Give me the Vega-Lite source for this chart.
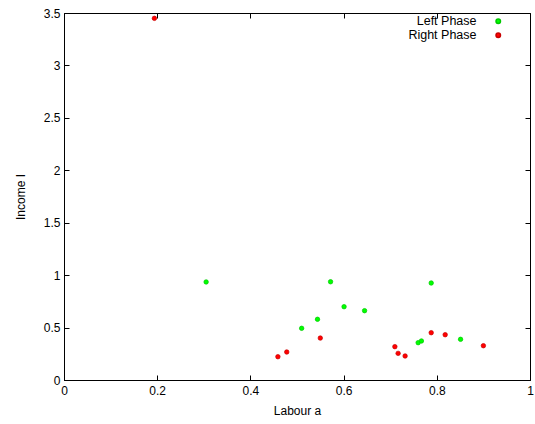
{
  "$schema": "https://vega.github.io/schema/vega-lite/v6.json",
  "width": 466,
  "height": 367,
  "autosize": {"type": "none"},
  "padding": {"left": 64, "top": 13, "right": 5, "bottom": 44},
  "background": "white",
  "config": {
    "font": "Liberation Sans",
    "view": {"stroke": "black", "strokeWidth": 1},
    "axis": {
      "grid": false,
      "domainColor": "black",
      "tickColor": "black",
      "labelColor": "black",
      "titleColor": "black",
      "labelFontSize": 12,
      "titleFontSize": 12,
      "titleFontWeight": "normal",
      "labelFont": "Liberation Sans",
      "titleFont": "Liberation Sans"
    }
  },
  "data": {
    "values": [
      {"a": 0.305, "I": 0.935, "phase": "Left Phase"},
      {"a": 0.510, "I": 0.493, "phase": "Left Phase"},
      {"a": 0.544, "I": 0.579, "phase": "Left Phase"},
      {"a": 0.572, "I": 0.937, "phase": "Left Phase"},
      {"a": 0.601, "I": 0.699, "phase": "Left Phase"},
      {"a": 0.645, "I": 0.661, "phase": "Left Phase"},
      {"a": 0.760, "I": 0.356, "phase": "Left Phase"},
      {"a": 0.767, "I": 0.372, "phase": "Left Phase"},
      {"a": 0.788, "I": 0.925, "phase": "Left Phase"},
      {"a": 0.851, "I": 0.388, "phase": "Left Phase"},
      {"a": 0.194, "I": 3.449, "phase": "Right Phase"},
      {"a": 0.459, "I": 0.222, "phase": "Right Phase"},
      {"a": 0.478, "I": 0.267, "phase": "Right Phase"},
      {"a": 0.550, "I": 0.400, "phase": "Right Phase"},
      {"a": 0.710, "I": 0.318, "phase": "Right Phase"},
      {"a": 0.717, "I": 0.254, "phase": "Right Phase"},
      {"a": 0.732, "I": 0.229, "phase": "Right Phase"},
      {"a": 0.788, "I": 0.451, "phase": "Right Phase"},
      {"a": 0.818, "I": 0.432, "phase": "Right Phase"},
      {"a": 0.900, "I": 0.327, "phase": "Right Phase"}
    ]
  },
  "layer": [
    {
      "mark": {"type": "point", "filled": true, "shape": "circle", "size": 20, "opacity": 1, "strokeWidth": 0.7},
      "encoding": {
        "x": {"field": "a", "type": "quantitative", "scale": {"domain": [0, 1], "nice": false, "zero": false},
              "axis": {"title": "Labour a", "values": [0, 0.2, 0.4, 0.6, 0.8, 1], "tickSize": -5, "labelPadding": 10, "titlePadding": 9, "format": "~g", "labelFlush": false}},
        "y": {"field": "I", "type": "quantitative", "scale": {"domain": [0, 3.5], "nice": false, "zero": false},
              "axis": {"title": "Income I", "values": [0, 0.5, 1, 1.5, 2, 2.5, 3, 3.5], "tickSize": -5, "labelPadding": 9, "titlePadding": 16, "format": "~g", "labelFlush": false}},
        "color": {"field": "phase", "type": "nominal",
                  "scale": {"domain": ["Left Phase", "Right Phase"], "range": ["#00ff00", "#ff0000"]},
                  "legend": {"title": null, "orient": "none", "legendX": 428, "legendY": 2, "labelFontSize": 12.5, "labelAlign": "right", "labelOffset": -28, "symbolSize": 20, "rowPadding": 1, "labelColor": "black"}},
        "stroke": {"field": "phase", "type": "nominal",
                   "scale": {"domain": ["Left Phase", "Right Phase"], "range": ["#00c800", "#c80000"]},
                   "legend": null}
      }
    },
    {
      "mark": {"type": "point", "opacity": 0},
      "encoding": {
        "x": {"field": "a", "type": "quantitative", "axis": {"orient": "top", "labels": false, "title": null, "domain": false, "values": [0, 0.2, 0.4, 0.6, 0.8, 1], "tickSize": -5}},
        "y": {"field": "I", "type": "quantitative", "axis": {"orient": "right", "labels": false, "title": null, "domain": false, "values": [0, 0.5, 1, 1.5, 2, 2.5, 3, 3.5], "tickSize": -5}}
      }
    }
  ],
  "resolve": {"axis": {"x": "independent", "y": "independent"}}
}
